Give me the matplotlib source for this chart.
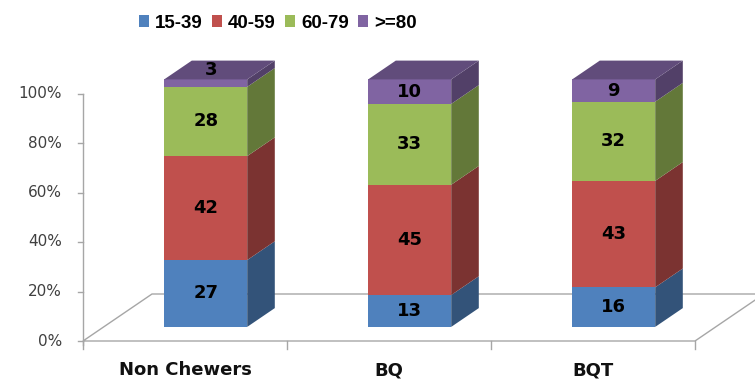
import matplotlib
matplotlib.use("Agg")
import matplotlib.pyplot as plt
from matplotlib.patches import Polygon, Patch
from matplotlib.font_manager import FontProperties
from matplotlib.colors import to_rgb

# Age-group shares (%) per chewing group
categories = ["Non Chewers", "BQ", "BQT"]
age_groups = ["15-39", "40-59", "60-79", ">=80"]
share_15_39 = [27, 13, 16]
share_40_59 = [42, 45, 43]
share_60_79 = [28, 33, 32]
share_80_plus = [3, 10, 9]
y_ticks = [0, 20, 40, 60, 80, 100]
y_tick_labels = ["0%", "20%", "40%", "60%", "80%", "100%"]

series = [share_15_39, share_40_59, share_60_79, share_80_plus]
front_colors = ["#4F81BD", "#C0504D", "#9BBB59", "#8064A2"]

# Figure geometry (pixels)
W, H, DPI = 755, 381, 100
PX_PER_CAT = 204.0      # horizontal pixels per category
PX_PER_PCT = 2.475      # vertical pixels per percent
CAT0_X = 185.0          # pixel x of first category centre
ZERO_Y = 341.0          # pixel y (from top) of the 0% level

# Oblique depth of the floor, in data units
DX = 69.0 / PX_PER_CAT
DY = 47.0 / PX_PER_PCT
BAR_W = 83.0 / PX_PER_CAT
BAR_FRONT, BAR_BACK = 0.30, 0.70   # bar position along the depth


def shade(color, f):
    r, g, b = to_rgb(color)
    return (r * f, g * f, b * f)


fig = plt.figure(figsize=(W / DPI, H / DPI), dpi=DPI)
fig.patch.set_facecolor("white")
ax = fig.add_axes([0, 0, 1, 1])
ax.set_xlim(-CAT0_X / PX_PER_CAT, (W - CAT0_X) / PX_PER_CAT)
ax.set_ylim(-(H - ZERO_Y) / PX_PER_PCT, ZERO_Y / PX_PER_PCT)
ax.axis("off")

grey = "#A6A6A6"
n = len(categories)
left_edge, right_edge = -0.5, n - 0.5

# Floor
floor = Polygon([(left_edge, 0), (right_edge, 0), (right_edge + DX, DY),
                 (left_edge + DX, DY)], closed=True, facecolor="white",
                edgecolor=grey, lw=1.0, zorder=1)
ax.add_patch(floor)

# Value axis
ax.plot([left_edge, left_edge], [-1.6, 100], color=grey, lw=1.0, zorder=2)
tick_len = 5.0 / PX_PER_CAT
for t, lab in zip(y_ticks, y_tick_labels):
    ax.plot([left_edge - tick_len, left_edge], [t, t], color=grey, lw=1.0, zorder=2)
    ax.text(left_edge - 21.0 / PX_PER_CAT, t, lab, ha="right", va="center",
            fontsize=11, color="#404040", family="DejaVu Sans")

# Category axis ticks and labels
for k in range(n + 1):
    xk = left_edge + k
    ax.plot([xk, xk], [0, -8.0 / PX_PER_PCT], color=grey, lw=1.0, zorder=2)
for i, cat in enumerate(categories):
    ax.text(i, -(370 - ZERO_Y) / PX_PER_PCT, cat, ha="center", va="center",
            fontsize=13, fontweight="bold", color="#111111", family="DejaVu Sans")

# Stacked 3D columns (normalised to 100%)
ddx = (BAR_BACK - BAR_FRONT) * DX
ddy = (BAR_BACK - BAR_FRONT) * DY
for i in range(n):
    vals = [s[i] for s in series]
    total = float(sum(vals))
    x0 = i - BAR_W / 2 + BAR_FRONT * DX
    x1 = x0 + BAR_W
    yb = BAR_FRONT * DY
    bottom = 0.0
    for j, v in enumerate(vals):
        h = v / total * 100.0
        y0, y1 = yb + bottom, yb + bottom + h
        col = front_colors[j]
        ax.add_patch(Polygon([(x0, y0), (x1, y0), (x1, y1), (x0, y1)], closed=True,
                             facecolor=col, edgecolor="none", zorder=3))
        ax.add_patch(Polygon([(x1, y0), (x1 + ddx, y0 + ddy), (x1 + ddx, y1 + ddy),
                              (x1, y1)], closed=True, facecolor=shade(col, 0.64),
                             edgecolor="none", zorder=3))
        if j == len(vals) - 1:
            ax.add_patch(Polygon([(x0, y1), (x1, y1), (x1 + ddx, y1 + ddy),
                                  (x0 + ddx, y1 + ddy)], closed=True,
                                 facecolor=shade(col, 0.76), edgecolor="none", zorder=3))
        cx, cy = (x0 + x1) / 2, (y0 + y1) / 2
        if h * PX_PER_PCT < 16:
            # too thin for its label: put it on the top face
            cx, cy = cx + ddx * 0.2, y1 + ddy / 2
        ax.text(cx, cy, str(v), ha="center", va="center", fontsize=13,
                fontweight="bold", color="black", zorder=5, family="DejaVu Sans")
        bottom += h

# Legend
handles = [Patch(facecolor=c, edgecolor="none") for c in front_colors]
fig.legend(handles, age_groups, loc="center", bbox_to_anchor=(278 / W, 1 - 23 / H),
           ncol=4, frameon=False,
           prop=FontProperties(family=["Liberation Sans", "DejaVu Sans"],
                               weight="bold", size=13.5),
           handlelength=0.53, handleheight=0.64, handletextpad=0.32,
           columnspacing=0.5, borderaxespad=0, borderpad=0)

fig.savefig("out.png", dpi=DPI, facecolor="white")
